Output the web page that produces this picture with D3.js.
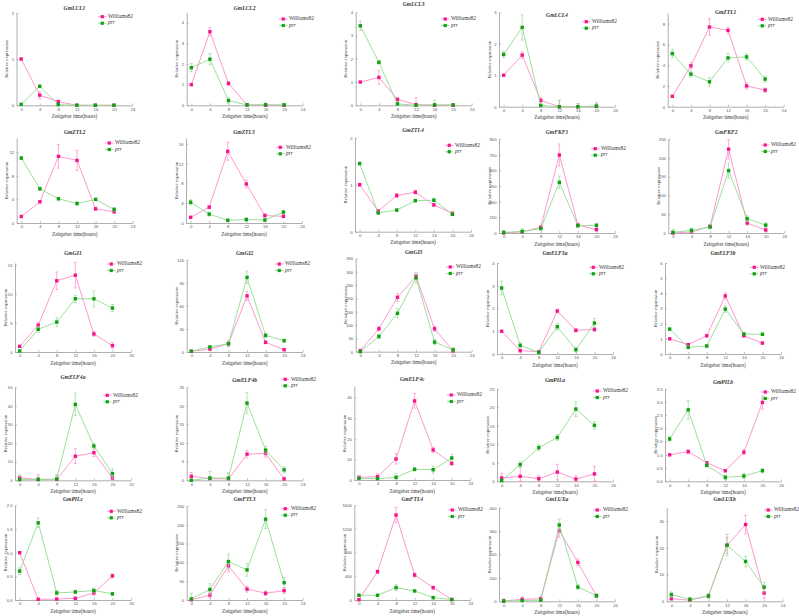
<!DOCTYPE html>
<html>
<head>
<meta charset="utf-8">
<script src="https://cdn.jsdelivr.net/npm/d3@7"></script>
<style>
  body { margin: 0; background: #fff; }
  svg { display: block; font-family: "Liberation Serif", "Times New Roman", serif; }
</style>
</head>
<body>
<script>
// sampling times (hours) and x ticks
const times = [0, 4, 8, 12, 16, 20];
const hourTicks = [0, 4, 8, 12, 16, 20, 24];

const genes = ["GmLCL1", "GmLCL2", "GmLCL3", "GmLCL4", "GmZTL1",
  "GmZTL2", "GmZTL3", "GmZTL4", "GmFKF1", "GmFKF2",
  "GmGI1", "GmGI2", "GmGI3", "GmELF3a", "GmELF3b",
  "GmELF4a", "GmELF4b", "GmELF4c", "GmPILa", "GmPILb",
  "GmPILc", "GmFTL3", "GmFTL4", "GmLUXa", "GmLUXb"];

const seriesNames = ["Williams82", "prr"];

// y axis max and tick step for each gene
const yMaxes = [2, 4.5, 4, 3, 9, 14.4, 17.2, 2, 900, 250, 15.3, 120, 350, 4, 6, 50, 25, 45.3, 25, 3.5, 2, 250, 1600, 400, 35];
const yStep = [1, 1, 1, 1, 2, 4, 4, 1, 150, 50, 5, 30, 50, 1, 1, 10, 5, 10, 5, 0.5, 0.5, 50, 400, 100, 10];

// Williams82 means and error bars
const w82 = [
  [1, 0.22, 0.08, 0, 0, 0],
  [1, 3.56, 1.06, 0.02, 0, 0],
  [1, 1.2, 0.25, 0.03, 0, 0],
  [1, 1.64, 0.2, 0, 0, 0.01],
  [1, 3.94, 7.68, 7.36, 2.0, 1.6],
  [1.1, 3.6, 11.3, 10.6, 2.4, 1.9],
  [1.15, 3.2, 14.5, 7.9, 1.5, 1.35],
  [1, 0.44, 0.77, 0.84, 0.57, 0.39],
  [2, 10, 55, 747, 77, 32],
  [0, 2.7, 17.7, 223, 26.6, 8],
  [0.97, 4.6, 12.25, 13.2, 3.1, 1.1],
  [0.9, 3.9, 10.8, 73, 12.6, 3],
  [4, 86, 204, 283, 86, 3],
  [1, 0.15, 0.1, 1.89, 1.04, 1.08],
  [1, 0.62, 1.2, 3.83, 1.2, 0.72],
  [1.25, 0.5, 0.5, 12.9, 14.8, 1.25],
  [1.07, 0.45, 0.36, 7.0, 7.2, 0.36],
  [1.3, 1.6, 10.2, 38.4, 14.6, 8.1],
  [0.9, 1.35, 0.7, 2.5, 0.6, 2.0],
  [1, 1.12, 0.7, 0.4, 1.1, 2.98],
  [1, 0.015, 0.02, 0.035, 0.15, 0.51],
  [0.5, 13, 91, 29, 18, 25],
  [5, 477, 1431, 421, 208, 8],
  [1.5, 8.5, 11, 303, 166, 23],
  [1, 0.4, 2, 20.9, 28.7, 3.1]
];
const w82Err = [
  [0.02, 0.08, 0.03, 0.01, 0, 0],
  [0.02, 0.2, 0.08, 0.04, 0.02, 0.02],
  [0.02, 0.3, 0.08, 0.3, 0.02, 0.02],
  [0.02, 0.1, 0.08, 0.2, 0.1, 0.1],
  [0.05, 0.3, 0.8, 0.3, 0.3, 0.2],
  [0.1, 0.2, 2, 1.7, 0.3, 0.2],
  [0.1, 0.3, 1.8, 0.8, 0.4, 0.3],
  [0.03, 0.03, 0.04, 0.04, 0.03, 0.03],
  [3, 10, 10, 105, 15, 10],
  [1, 3, 5, 26, 6, 5],
  [0.1, 0.4, 1.5, 2.2, 0.4, 0.5],
  [1, 2, 3, 6, 2, 1],
  [5, 8, 15, 8, 10, 3],
  [0.02, 0.06, 0.05, 0.08, 0.07, 0.1],
  [0.03, 0.05, 0.06, 0.2, 0.06, 0.05],
  [1, 2.5, 2, 4, 2, 1],
  [1, 0.5, 1.5, 1, 1, 0.5],
  [0.5, 1.5, 2.5, 3.5, 1.3, 1],
  [1.2, 3, 0.8, 2.1, 0.9, 2],
  [0.02, 0.08, 0.05, 0.05, 0.1, 0.25],
  [0.01, 0.02, 0.02, 0.02, 0.05, 0.04],
  [1, 8, 15, 8, 6, 8],
  [5, 30, 130, 35, 25, 5],
  [5, 10, 10, 30, 15, 8],
  [0.5, 0.3, 0.5, 3, 3.5, 2]
];

// prr means and error bars
const prr = [
  [0.02, 0.41, 0.015, 0, 0, 0],
  [1.82, 2.23, 0.23, 0.02, 0.03, 0.02],
  [3.42, 1.85, 0.06, 0, 0.02, 0.02],
  [1.66, 2.52, 0.04, 0, 0, 0.02],
  [5.12, 3.14, 2.4, 4.7, 4.8, 2.66],
  [11.0, 5.8, 4.1, 3.3, 4.0, 2.3],
  [4.2, 1.8, 0.55, 0.7, 0.6, 2.2],
  [1.45, 0.4, 0.46, 0.66, 0.67, 0.37],
  [5, 15, 42, 485, 70, 73],
  [1.8, 7, 16, 166, 38, 21],
  [0.17, 3.9, 5.15, 9.15, 9.15, 7.55],
  [1, 6.5, 10.8, 97, 21.6, 14.7],
  [0, 57, 144, 277, 36, 7],
  [2.9, 0.38, 0.07, 1.2, 0.19, 1.36],
  [1.64, 0.44, 0.53, 2.96, 1.32, 1.3],
  [0.35, 0.4, 0.7, 40.7, 18.4, 3.6],
  [0, 0.6, 0.6, 20.7, 8.1, 2.8],
  [0.8, 0.65, 1.3, 5.2, 5.0, 10.7],
  [0.2, 4.5, 9.1, 11.8, 19.5, 15.1],
  [1.6, 2.7, 0.6, 0.15, 0.2, 0.4],
  [0.61, 1.63, 0.15, 0.17, 0.2, 0.13],
  [3, 28, 102, 80, 215, 46],
  [80, 80, 208, 152, 40, 8],
  [1, 3, 5, 326, 61, 24],
  [2.5, 0.75, 2, 21, 14.9, 5.3]
];
const prrErr = [
  [0.02, 0.03, 0.01, 0, 0, 0],
  [0.2, 0.27, 0.13, 0.05, 0.08, 0.08],
  [0.2, 0.08, 0.05, 0.02, 0.2, 0.05],
  [0.1, 0.4, 0.03, 0.2, 0.1, 0.1],
  [0.4, 0.3, 0.4, 0.4, 0.3, 0.3],
  [0.2, 0.3, 0.2, 0.3, 0.2, 0.3],
  [0.5, 0.4, 0.2, 0.3, 0.2, 0.3],
  [0.03, 0.03, 0.03, 0.03, 0.04, 0.03],
  [20, 25, 10, 60, 15, 20],
  [8, 6, 5, 20, 8, 6],
  [0.2, 0.5, 0.8, 0.6, 1.4, 0.6],
  [1, 2, 4, 8, 3, 2],
  [5, 8, 17, 20, 10, 10],
  [0.3, 0.1, 0.05, 0.15, 0.1, 0.2],
  [0.08, 0.1, 0.08, 0.2, 0.05, 0.08],
  [2.5, 1.5, 2.5, 6, 1.5, 2.5],
  [0.3, 1.8, 1.4, 2.8, 1, 0.8],
  [0.8, 0.3, 1.7, 0.8, 1.8, 1.8],
  [0.3, 0.8, 0.8, 0.8, 2, 1],
  [0.08, 0.35, 0.05, 0.08, 0.1, 0.08],
  [0.07, 0.1, 0.05, 0.04, 0.05, 0.03],
  [15, 15, 20, 17, 25, 13],
  [15, 10, 50, 20, 20, 5],
  [10, 5, 5, 25, 10, 8],
  [1, 0.7, 1, 4, 2, 1.8]
];

// panel placement: [axis x, plot top, plot bottom, title y, legend x, legend y]
const layout = [
  [16.5, 12.7, 105.3, 8.3, 98, 16.7],
  [186.7, 12.3, 105.3, 8.3, 279, 19],
  [355.7, 12.3, 105.3, 4.7, 441, 19],
  [499, 12.3, 106.7, 16, 582, 21.7],
  [667.7, 13.3, 106.7, 12.7, 758, 19.3],
  [16.7, 138, 223, 132.3, 105, 143],
  [186, 138, 223, 132.3, 276, 147.3],
  [355, 137.7, 231.7, 131, 445, 145.3],
  [499, 139, 233, 132.3, 591, 148.7],
  [668.3, 139, 233, 133, 761, 145],
  [15, 263, 352, 254, 107, 264],
  [186.7, 259.7, 352, 254, 275, 264],
  [355.7, 258.4, 351.7, 252.7, 446, 267],
  [497, 263, 354, 254, 589, 267.3],
  [665, 263, 354, 254, 750, 267.3],
  [15, 387, 480.3, 378, 103, 395.3],
  [186.7, 387, 480.3, 380.3, 281, 379.3],
  [354.3, 386.7, 480, 380, 447, 395],
  [497, 388.7, 481.3, 380.3, 593, 391],
  [665, 388.7, 481.3, 383, 761, 392],
  [15, 505.3, 600, 500, 107, 511.3],
  [186.7, 506, 600, 500, 281, 508.7],
  [354.3, 505, 600, 499.7, 448, 510],
  [499, 507.7, 601.3, 500, 593, 510],
  [666.7, 507.7, 601.3, 499.3, 764, 510]
];

const plotWidth = 116;
const lineColors = ["#ff8cc8", "#8fdc8f"];
const markColors = ["#f5168c", "#14a014"];

const svg = d3.select("body").append("svg")
    .attr("width", 799)
    .attr("height", 616);

genes.forEach((gene, i) => {
    const [ax, top, bottom, titleY, legX, legY] = layout[i];
    const x = d3.scaleLinear().domain([-1, 24]).range([ax, ax + plotWidth]);
    const y = d3.scaleLinear().domain([0, yMaxes[i]]).range([bottom, top]);
    const g = svg.append("g").attr("class", "panel");

    // axes
    const yTicks = d3.range(0, yMaxes[i] + 1e-9, yStep[i]);
    const fmt = yStep[i] < 1 ? d3.format(".1f") : d3.format("d");
    const yAxis = g.append("g")
        .attr("transform", `translate(${ax},0)`)
        .call(d3.axisLeft(y).tickValues(yTicks).tickFormat(fmt).tickSizeInner(-2).tickSizeOuter(0).tickPadding(2.5));
    const xAxis = g.append("g")
        .attr("transform", `translate(0,${bottom})`)
        .call(d3.axisBottom(x).tickValues(hourTicks).tickSizeInner(-2).tickSizeOuter(0).tickPadding(2.5));
    [yAxis, xAxis].forEach(a => {
        a.select(".domain").attr("stroke", "#9a9a9a").attr("stroke-width", 0.8);
        a.selectAll(".tick line").attr("stroke", "#9a9a9a").attr("stroke-width", 0.6);
        a.selectAll(".tick text").attr("fill", "#555").attr("font-size", 4.2).attr("font-family", null);
    });

    // titles
    g.append("text")
        .attr("x", ax + plotWidth / 2)
        .attr("y", titleY)
        .attr("text-anchor", "middle")
        .attr("dominant-baseline", "middle")
        .attr("font-size", 5.6)
        .attr("font-weight", "bold")
        .attr("font-style", "italic")
        .attr("fill", "#333")
        .text(gene);

    g.append("text")
        .attr("x", ax + plotWidth / 2)
        .attr("y", bottom + 11.5)
        .attr("text-anchor", "middle")
        .attr("dominant-baseline", "middle")
        .attr("font-size", 5.2)
        .attr("fill", "#333")
        .text("Zeitgeber time(hours)");

    g.append("text")
        .attr("transform", `translate(${ax - 9.5},${(top + bottom) / 2}) rotate(-90)`)
        .attr("text-anchor", "middle")
        .attr("dominant-baseline", "middle")
        .attr("font-size", 4.8)
        .attr("fill", "#333")
        .text("Relative expression");

    // series: error bars, line, markers
    [w82[i], prr[i]].forEach((vals, s) => {
        const errs = s === 0 ? w82Err[i] : prrErr[i];
        const pts = times.map((t, k) => ({ t: t, v: vals[k], e: errs[k] }));
        const sg = g.append("g");

        sg.selectAll(".err").data(pts).enter().append("path")
            .attr("class", "err")
            .attr("d", d => {
                const cx = x(d.t), y1 = y(d.v + d.e), y0 = y(Math.max(0, d.v - d.e));
                return `M${cx},${y0}V${y1}M${cx - 1.5},${y1}H${cx + 1.5}M${cx - 1.5},${y0}H${cx + 1.5}`;
            })
            .attr("fill", "none")
            .attr("stroke", lineColors[s])
            .attr("stroke-width", 0.7);

        sg.append("path")
            .datum(pts)
            .attr("d", d3.line().x(d => x(d.t)).y(d => y(d.v)))
            .attr("fill", "none")
            .attr("stroke", lineColors[s])
            .attr("stroke-width", 0.9);

        sg.selectAll(".mark").data(pts).enter().append("rect")
            .attr("class", "mark")
            .attr("x", d => x(d.t) - 1.7)
            .attr("y", d => y(d.v) - 1.7)
            .attr("width", 3.4)
            .attr("height", 3.4)
            .attr("fill", markColors[s]);
    });

    // legend
    seriesNames.forEach((name, s) => {
        const ly = legY + s * 6.5;
        g.append("line")
            .attr("x1", legX).attr("x2", legX + 8.5)
            .attr("y1", ly).attr("y2", ly)
            .attr("stroke", lineColors[s]).attr("stroke-width", 0.9);
        g.append("rect")
            .attr("x", legX + 4.25 - 1.6).attr("y", ly - 1.6)
            .attr("width", 3.2).attr("height", 3.2)
            .attr("fill", markColors[s]);
        g.append("text")
            .attr("x", legX + 10)
            .attr("y", ly)
            .attr("dominant-baseline", "middle")
            .attr("font-size", 5.4)
            .attr("font-style", s === 1 ? "italic" : "normal")
            .attr("fill", "#333")
            .text(name);
    });
});
</script>
</body>
</html>
